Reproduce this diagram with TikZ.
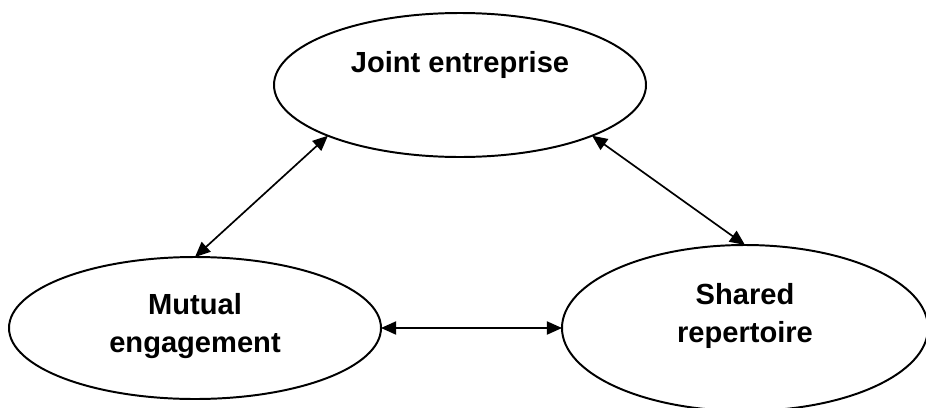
\documentclass[tikz,border=0pt]{standalone}
\usepackage{fontspec}
\setmainfont{Liberation Sans}
\usetikzlibrary{shapes.geometric,arrows.meta}

\begin{document}
\begin{tikzpicture}[
    bubble/.style={draw,ellipse,line width=1.4pt,inner sep=0pt,outer sep=0pt},
    caption/.style={font=\fontsize{20.7}{27}\selectfont\bfseries,align=center},
    link/.style={{Triangle[length=0.38cm,width=0.33cm]}-{Triangle[length=0.38cm,width=0.33cm]},line width=1.2pt}]
    \useasboundingbox (0,0) rectangle (23.15,10.175);
    \node[bubble,minimum width=9.3cm,minimum height=3.6cm] (joint) at (11.5,8.05) {};
    \node[bubble,minimum width=9.3cm,minimum height=3.55cm] (mutual) at (4.875,1.975) {};
    \node[bubble,minimum width=9.15cm,minimum height=4.15cm] (shared) at (18.625,1.975) {};
    \node[caption] (jointtxt) at ([yshift=.51cm]joint.center) {Joint entreprise};
    \node[caption] (mutualtxt) at ([yshift=.04cm]mutual.center) {Mutual\\engagement};
    \node[caption] (sharedtxt) at ([yshift=.29cm]shared.center) {Shared\\repertoire};
    \draw[link] (joint.201.5) -- (mutual.north);
    \draw[link] (joint.-21.5) -- (shared.north);
    \draw[link] (mutual.east) -- (shared.west);
\end{tikzpicture}
\end{document}
